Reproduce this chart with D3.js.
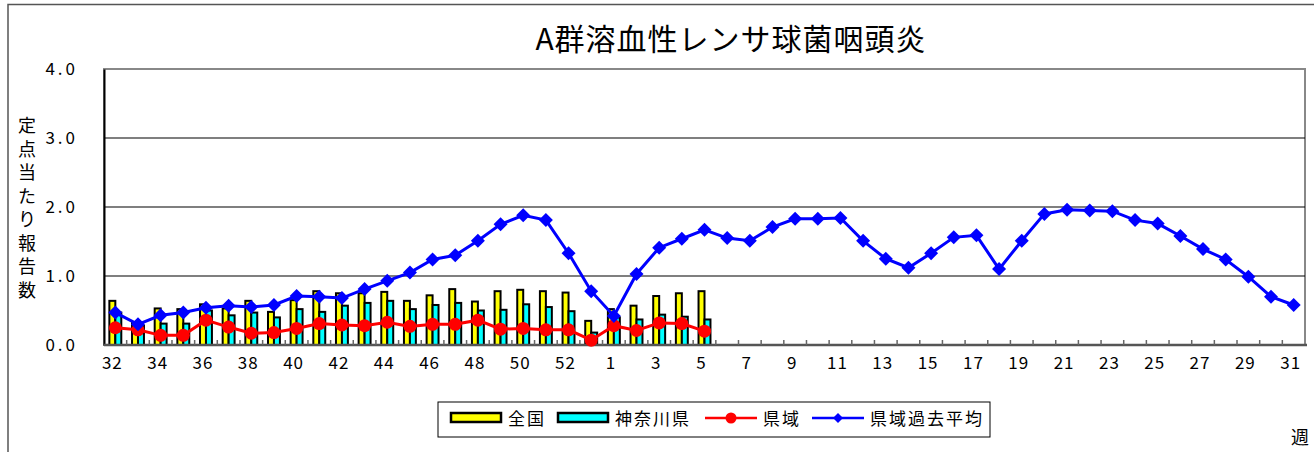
<!DOCTYPE html>
<html>
<head>
<meta charset="utf-8">
<script src="https://cdn.jsdelivr.net/npm/d3@7"></script>
<style>
  body { margin: 0; background: #fff; }
  text { font-family: "Noto Sans CJK JP", "DejaVu Sans", sans-serif; }
</style>
</head>
<body>
<div id="chart"></div>
<script>
// weeks 32 .. 53 then 1 .. 31
var weeks = ["32","33","34","35","36","37","38","39","40","41","42","43","44","45","46","47","48","49","50","51","52","53",
             "1","2","3","4","5","6","7","8","9","10","11","12","13","14","15","16","17","18","19","20","21","22","23","24","25","26","27","28","29","30","31"];
var tickLabels = ["32","34","36","38","40","42","44","46","48","50","52","1","3","5","7","9","11","13","15","17","19","21","23","25","27","29","31"];
var yTicks = [0, 1, 2, 3, 4];

var zenkoku  = [0.64,0.33,0.53,0.52,0.59,0.53,0.64,0.48,0.65,0.78,0.75,0.75,0.77,0.64,0.72,0.81,0.63,0.78,0.80,0.78,0.76,0.35,0.52,0.57,0.71,0.75,0.78];
var kanagawa = [0.47,0.28,0.31,0.31,0.50,0.43,0.47,0.40,0.52,0.48,0.57,0.61,0.64,0.52,0.58,0.61,0.50,0.51,0.59,0.55,0.49,0.18,0.40,0.37,0.44,0.41,0.37];
var kenki    = [0.25,0.22,0.14,0.14,0.36,0.26,0.17,0.18,0.24,0.31,0.29,0.28,0.33,0.27,0.30,0.30,0.36,0.23,0.24,0.22,0.22,0.07,0.28,0.21,0.32,0.31,0.20];
var pastAvg  = [0.47,0.30,0.43,0.47,0.54,0.57,0.55,0.58,0.71,0.70,0.68,0.81,0.93,1.05,1.24,1.30,1.51,1.75,1.88,1.81,1.33,0.78,0.42,1.03,1.41,
                1.54,1.67,1.55,1.51,1.71,1.83,1.83,1.84,1.51,1.25,1.12,1.33,1.56,1.59,1.10,1.51,1.90,1.96,1.95,1.94,1.81,1.76,1.58,1.39,1.24,0.99,0.70,0.58];

var width = 1314, height = 452;
var plotLeft = 104, plotRight = 1305, plotTop = 69, plotBottom = 345;

var svg = d3.select("#chart").append("svg")
    .attr("width", width)
    .attr("height", height);

// outer chart frame
svg.append("path")
    .attr("d", "M8," + height + "V4.5H" + width)
    .attr("fill", "none")
    .attr("stroke", "#555")
    .attr("stroke-width", 1.5);

svg.append("text")
    .attr("x", 731).attr("y", 50)
    .attr("text-anchor", "middle")
    .attr("font-size", "30px")
    .attr("letter-spacing", "1px")
    .text("A群溶血性レンサ球菌咽頭炎");

var x = d3.scaleBand().domain(weeks).range([plotLeft, plotRight]).padding(0);
var y = d3.scaleLinear().domain([0, 4]).range([plotBottom, plotTop]);
var sub = d3.scaleBand().domain(["zenkoku", "kanagawa"]).range([0, x.bandwidth()]).paddingOuter(0.9);

// plot frame
svg.append("rect")
    .attr("x", plotLeft).attr("y", plotTop)
    .attr("width", plotRight - plotLeft).attr("height", plotBottom - plotTop)
    .attr("fill", "none")
    .attr("stroke", "#888")
    .attr("stroke-width", 2);

// gridlines
svg.append("g").selectAll("line")
    .data(yTicks.filter(function(d){ return d > 0 && d < 4; }))
    .enter().append("line")
    .attr("x1", plotLeft).attr("x2", plotRight)
    .attr("y1", function(d){ return y(d); })
    .attr("y2", function(d){ return y(d); })
    .attr("stroke", "#000")
    .attr("stroke-width", 1.2);

// y axis
svg.append("g")
    .attr("transform", "translate(" + plotLeft + ",0)")
    .call(d3.axisLeft(y).tickValues(yTicks).tickSize(0).tickPadding(26)
        .tickFormat(function(d){ return d3.format(".1f")(d); }))
    .call(function(g){ g.select(".domain").attr("stroke", "#000").attr("stroke-width", 2); })
    .selectAll("text")
    .attr("font-size", "17px")
    .attr("letter-spacing", "3px")
    .attr("fill", "#000");

// y title, vertical
var ytitle = "定点当たり報告数".split("");
svg.append("g").selectAll("text")
    .data(ytitle)
    .enter().append("text")
    .attr("x", 27)
    .attr("y", function(d, i){ return 132 + i * 23.5; })
    .attr("text-anchor", "middle")
    .attr("font-size", "18px")
    .text(function(d){ return d; });

// bars
var barData = [];
zenkoku.forEach(function(v, i){
  barData.push({week: weeks[i], key: "zenkoku", value: v, color: "#ffff00"});
  barData.push({week: weeks[i], key: "kanagawa", value: kanagawa[i], color: "#00ffff"});
});
svg.append("g").selectAll("rect")
    .data(barData)
    .enter().append("rect")
    .attr("x", function(d){ return x(d.week) + sub(d.key); })
    .attr("y", function(d){ return y(d.value); })
    .attr("width", sub.bandwidth())
    .attr("height", function(d){ return y(0) - y(d.value); })
    .attr("fill", function(d){ return d.color; })
    .attr("stroke", "#000")
    .attr("stroke-width", 2);

// x axis line and inside ticks
svg.append("line")
    .attr("x1", plotLeft).attr("x2", plotRight + 2)
    .attr("y1", plotBottom).attr("y2", plotBottom)
    .attr("stroke", "#555").attr("stroke-width", 2.5);
svg.append("g").selectAll("line")
    .data(weeks.slice(1))
    .enter().append("line")
    .attr("x1", function(d){ return x(d); })
    .attr("x2", function(d){ return x(d); })
    .attr("y1", plotBottom).attr("y2", plotBottom - 5)
    .attr("stroke", "#666").attr("stroke-width", 1.5);

svg.append("g")
    .attr("transform", "translate(-3," + plotBottom + ")")
    .call(d3.axisBottom(x).tickValues(tickLabels).tickSize(0).tickPadding(12))
    .call(function(g){ g.select(".domain").remove(); })
    .selectAll("text")
    .attr("font-size", "17px")
    .attr("letter-spacing", "1px")
    .attr("fill", "#000");

// 県域 line
var seriesLine = d3.line()
    .x(function(d, i){ return x(weeks[i]) + x.bandwidth() / 2; })
    .y(function(d){ return y(d); });
svg.append("path")
    .attr("d", seriesLine(kenki))
    .attr("fill", "none")
    .attr("stroke", "#ff0000")
    .attr("stroke-width", 3);
svg.append("g").selectAll("circle")
    .data(kenki)
    .enter().append("circle")
    .attr("cx", function(d, i){ return x(weeks[i]) + x.bandwidth() / 2; })
    .attr("cy", function(d){ return y(d); })
    .attr("r", 6.5)
    .attr("fill", "#ff0000");

// 県域過去平均 line
svg.append("path")
    .attr("d", seriesLine(pastAvg))
    .attr("fill", "none")
    .attr("stroke", "#0000ff")
    .attr("stroke-width", 3);
var diamond = "M0,-7L7,0L0,7L-7,0Z";
svg.append("g").selectAll("path")
    .data(pastAvg)
    .enter().append("path")
    .attr("d", diamond)
    .attr("transform", function(d, i){ return "translate(" + (x(weeks[i]) + x.bandwidth() / 2) + "," + y(d) + ")"; })
    .attr("fill", "#0000ff");

// legend
var lg = svg.append("g");
lg.append("rect")
    .attr("x", 438).attr("y", 402)
    .attr("width", 552).attr("height", 35)
    .attr("fill", "#fff").attr("stroke", "#000").attr("stroke-width", 1);
var legendItems = [
  {label: "全国", type: "bar", color: "#ffff00", sx: 451, tx: 508},
  {label: "神奈川県", type: "bar", color: "#00ffff", sx: 558, tx: 615},
  {label: "県域", type: "line", color: "#ff0000", sx: 705, tx: 763},
  {label: "県域過去平均", type: "line", color: "#0000ff", sx: 812, tx: 870}
];
legendItems.forEach(function(d){
  if (d.type === "bar") {
    lg.append("rect")
      .attr("x", d.sx).attr("y", 413).attr("width", 50).attr("height", 9)
      .attr("fill", d.color).attr("stroke", "#000").attr("stroke-width", 2.5);
  } else {
    lg.append("line")
      .attr("x1", d.sx).attr("x2", d.sx + 52).attr("y1", 418).attr("y2", 418)
      .attr("stroke", d.color).attr("stroke-width", 2.5);
    if (d.label === "県域") {
      lg.append("circle").attr("cx", d.sx + 26).attr("cy", 418).attr("r", 5.5).attr("fill", d.color);
    } else {
      lg.append("path").attr("d", "M0,-5L5,0L0,5L-5,0Z")
        .attr("transform", "translate(" + (d.sx + 26) + ",418)").attr("fill", d.color);
    }
  }
  lg.append("text")
    .attr("x", d.tx).attr("y", 425)
    .attr("font-size", "17px")
    .attr("letter-spacing", "2px")
    .text(d.label);
});

svg.append("text")
    .attr("x", 1300).attr("y", 444)
    .attr("text-anchor", "middle")
    .attr("font-size", "18px")
    .text("週");
</script>
</body>
</html>
